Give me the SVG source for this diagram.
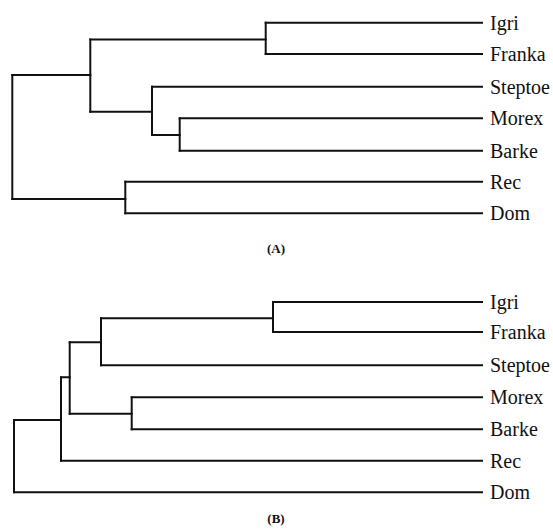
<svg xmlns="http://www.w3.org/2000/svg" width="553" height="531" viewBox="0 0 553 531">
  <style>
    .br { fill: none; stroke: #111; stroke-width: 2; stroke-linecap: square; }
    .lbl { font-family: "Liberation Serif", "Times New Roman", serif; font-size: 20px; fill: #111; }
    .cap { font-family: "Liberation Serif", "Times New Roman", serif; font-size: 13px; font-weight: bold; fill: #111; text-anchor: middle; }
  </style>
  <rect width="553" height="531" fill="#fff"/>

  <!-- Tree A -->
  <g id="treeA">
    <g id="connectorsA" class="br">
      <path d="M265.7 22.7H482 M265.7 54H482"/>
      <path d="M90.3 39.5H265.7 M90.3 111.7H152"/>
      <path d="M152 86.7H482 M152 135H179.7"/>
      <path d="M179.7 118.3H482 M179.7 150.7H482"/>
      <path d="M12.3 75H90.3 M12.3 199H125.3"/>
      <path d="M125.3 181.7H482 M125.3 213.3H482"/>
    </g>
    <g id="A-root" class="br"><path d="M12.3 75V199"/></g>
    <g id="A-n1" class="br"><path d="M90.3 39.5V111.7"/></g>
    <g id="A-igri-franka" class="br"><path d="M265.7 22.7V54"/></g>
    <g id="A-steptoe-morex-barke" class="br"><path d="M152 86.7V135"/></g>
    <g id="A-morex-barke" class="br"><path d="M179.7 118.3V150.7"/></g>
    <g id="A-rec-dom" class="br"><path d="M125.3 181.7V213.3"/></g>
    <g id="A-Igri"><text class="lbl" x="490" y="29.7">Igri</text></g>
    <g id="A-Franka"><text class="lbl" x="490" y="61">Franka</text></g>
    <g id="A-Steptoe"><text class="lbl" x="490" y="93.7">Steptoe</text></g>
    <g id="A-Morex"><text class="lbl" x="490" y="125.3">Morex</text></g>
    <g id="A-Barke"><text class="lbl" x="490" y="157.7">Barke</text></g>
    <g id="A-Rec"><text class="lbl" x="490" y="188.7">Rec</text></g>
    <g id="A-Dom"><text class="lbl" x="490" y="220.3">Dom</text></g>
    <text class="cap" x="276" y="253">(A)</text>
  </g>

  <!-- Tree B -->
  <g id="treeB">
    <g id="connectorsB" class="br">
      <path d="M273 302H482 M273 332H482"/>
      <path d="M101 318.3H273 M101 365.3H482"/>
      <path d="M69.7 342.3H101 M69.7 413.7H131.7"/>
      <path d="M131.7 397.3H482 M131.7 429.3H482"/>
      <path d="M61 377.3H69.7 M61 460.7H482"/>
      <path d="M14 420H61 M14 492.3H482"/>
    </g>
    <g id="B-root" class="br"><path d="M14 420V492.3"/></g>
    <g id="B-n2" class="br"><path d="M61 377.3V460.7"/></g>
    <g id="B-n1" class="br"><path d="M69.7 342.3V413.7"/></g>
    <g id="B-igri-franka-steptoe" class="br"><path d="M101 318.3V365.3"/></g>
    <g id="B-igri-franka" class="br"><path d="M273 302V332"/></g>
    <g id="B-morex-barke" class="br"><path d="M131.7 397.3V429.3"/></g>
    <g id="B-Igri"><text class="lbl" x="490" y="309">Igri</text></g>
    <g id="B-Franka"><text class="lbl" x="490" y="339">Franka</text></g>
    <g id="B-Steptoe"><text class="lbl" x="490" y="372.3">Steptoe</text></g>
    <g id="B-Morex"><text class="lbl" x="490" y="404.3">Morex</text></g>
    <g id="B-Barke"><text class="lbl" x="490" y="436.3">Barke</text></g>
    <g id="B-Rec"><text class="lbl" x="490" y="467.7">Rec</text></g>
    <g id="B-Dom"><text class="lbl" x="490" y="499.3">Dom</text></g>
    <text class="cap" x="276" y="523">(B)</text>
  </g>
</svg>
